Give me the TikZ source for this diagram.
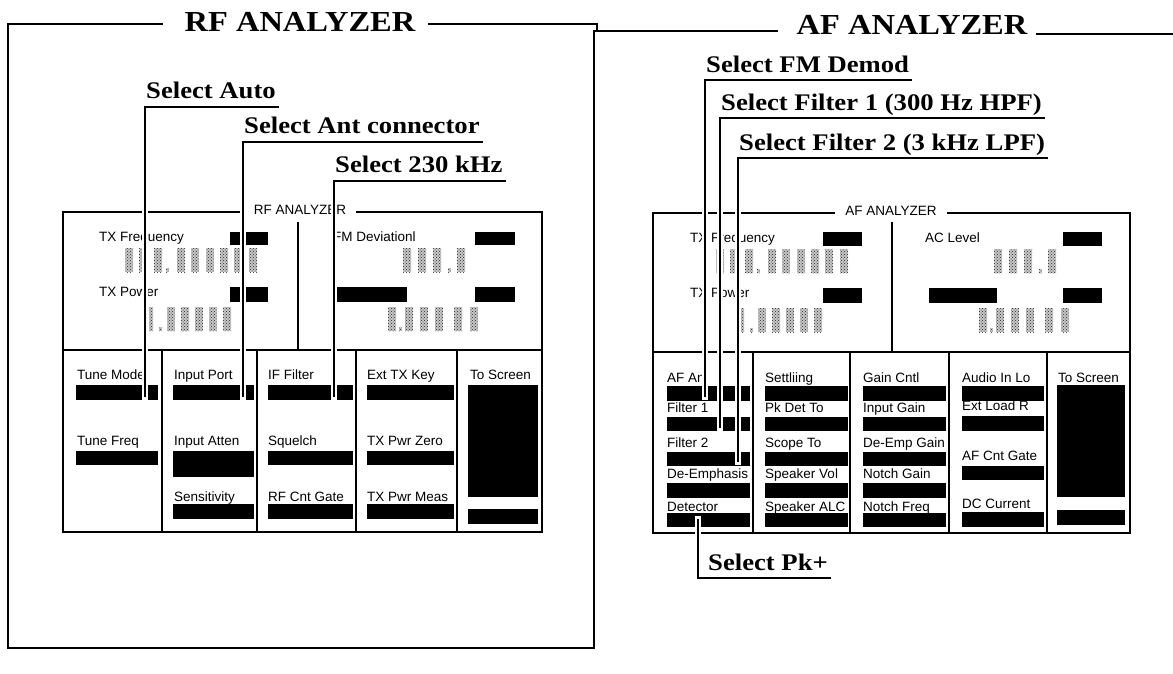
\documentclass[tikz,border=0pt]{standalone}
\usepackage{fontspec}
\setmainfont{Liberation Serif}
\newfontfamily\calloutfont[FakeStretch=1.12]{Liberation Serif Bold}
\newfontfamily\screenfont{Liberation Sans}
\usetikzlibrary{positioning,patterns}

\begin{document}
\begin{tikzpicture}[x=1pt,y=-1pt,
  frame/.style={line width=1.4pt},
  panel/.style={line width=2.4pt},
  divider/.style={line width=1.1pt},
  heading/.style={font=\calloutfont\fontsize{29}{32}\selectfont,inner sep=0pt,anchor=base},
  callout/.style={font=\calloutfont\fontsize{23.8}{26}\selectfont,inner sep=0pt,anchor=base west},
  softkey/.style={font=\screenfont\fontsize{13.5}{15}\selectfont,inner sep=0pt,anchor=base west},
  screentitle/.style={font=\screenfont\fontsize{13.5}{15}\selectfont,fill=white,inner xsep=10pt,inner ysep=2pt,anchor=base},
  field/.style 2 args={fill=black,inner sep=0pt,outer sep=0pt,anchor=north west,minimum width=#1,minimum height=#2},
  leader/.style={preaction={draw=white,line width=5.5pt,line cap=rect},draw=black,line width=1.8pt},
  digit/.style={fill=black!22,postaction={pattern=crosshatch dots,pattern color=black!85}}]

  \useasboundingbox (0,0) rectangle (1173,673);

  % outer frames with their headings
  \node[heading] (rfhead) at (300,31) {RF ANALYZER};
  \node[heading] (afhead) at (912,34) {AF ANALYZER};
  \draw[frame] (163,24) -- (8,24) -- (8,648) -- (594,648) -- (594,31) -- (778,31);
  \draw[frame] (428,24) -- (597,24) -- (597,31);
  \draw[frame] (1036,34) -- (1173,34);

  % RF screen
  \draw[panel] (63,212) rectangle (542,532);
  \draw[divider] (63,350) -- (542,350);
  \draw[divider] (298,222) -- (298,350);
  \foreach \x in {162,257,356,457} \draw[divider] (\x,350) -- (\x,532);
  \node[screentitle] (rfscreen) at (300,214) {RF ANALYZER};

  \node[softkey] (txfreq) at (99,241) {TX Frequency};
  \node[softkey] (txpower) at (99,296) {TX Power};
  \node[softkey] (fmdev) at (333,241) {FM Deviationl};
  \node[field={38pt}{13pt}] (txfreqf) at (230,232) {};
  \node[field={38pt}{15pt}] (txpowerf) at (230,287) {};
  \node[field={40pt}{13pt}] (fmdevf) at (475,232) {};
  \node[field={70pt}{15pt}] (rfmeasf) at (337,287) {};
  \node[field={40pt}{15pt}] (rfunitf) at (475,287) {};

  \node[softkey] (tunemode) at (77,379) {Tune Mode};
  \node[field={82pt}{15pt}] (tunemodef) at (76,385) {};
  \node[softkey] (tunefreq) at (77,445) {Tune Freq};
  \node[field={82pt}{14pt}] (tunefreqf) at (76,451) {};
  \node[softkey] (inport) at (174,379) {Input Port};
  \node[field={81pt}{15pt}] (inportf) at (173,385) {};
  \node[softkey] (inatten) at (174,445) {Input Atten};
  \node[field={81pt}{26pt}] (inattenf) at (173,451) {};
  \node[softkey] (sensit) at (174,501) {Sensitivity};
  \node[field={81pt}{15pt}] (sensitf) at (173,504) {};
  \node[softkey] (iffilter) at (268,379) {IF Filter};
  \node[field={85pt}{15pt}] (iffilterf) at (268,385) {};
  \node[softkey] (squelch) at (268,445) {Squelch};
  \node[field={85pt}{14pt}] (squelchf) at (268,451) {};
  \node[softkey] (rfcnt) at (268,501) {RF Cnt Gate};
  \node[field={85pt}{15pt}] (rfcntf) at (268,504) {};
  \node[softkey] (exttx) at (367,379) {Ext TX Key};
  \node[field={87pt}{15pt}] (exttxf) at (367,385) {};
  \node[softkey] (pwrzero) at (367,445) {TX Pwr Zero};
  \node[field={87pt}{14pt}] (pwrzerof) at (367,451) {};
  \node[softkey] (pwrmeas) at (367,501) {TX Pwr Meas};
  \node[field={87pt}{15pt}] (pwrmeasf) at (367,504) {};
  \node[softkey] (rfscr) at (470,379) {To Screen};
  \node[field={70pt}{112pt}] (rfscrf) at (468,385) {};
  \node[field={70pt}{15pt}] (rfscrg) at (468,509) {};

  % AF screen
  \draw[panel] (653,213) rectangle (1130,533);
  \draw[divider] (653,352) -- (1130,352);
  \draw[divider] (892,222) -- (892,352);
  \foreach \x in {753,850,949,1047} \draw[divider] (\x,352) -- (\x,533);
  \node[screentitle] (afscreen) at (891,215) {AF ANALYZER};

  \node[softkey] (aftxfreq) at (690,242) {TX Frequency};
  \node[softkey] (aftxpower) at (690,297) {TX Power};
  \node[softkey] (aclevel) at (925,242) {AC Level};
  \node[field={39pt}{14pt}] (aftxfreqf) at (823,232) {};
  \node[field={39pt}{15pt}] (aftxpowerf) at (823,288) {};
  \node[field={39pt}{14pt}] (aclevelf) at (1063,232) {};
  \node[field={68pt}{15pt}] (afmeasf) at (929,288) {};
  \node[field={39pt}{15pt}] (afunitf) at (1063,288) {};

  \node[softkey] (afanl) at (667,382) {AF Anl};
  \node[field={83pt}{15pt}] (afanlf) at (667,386) {};
  \node[softkey] (filt1) at (667,412) {Filter 1};
  \node[field={83pt}{14pt}] (filt1f) at (667,417) {};
  \node[softkey] (filt2) at (667,447) {Filter 2};
  \node[field={83pt}{14pt}] (filt2f) at (667,452) {};
  \node[softkey] (deemph) at (667,478) {De-Emphasis};
  \node[field={83pt}{15pt}] (deemphf) at (667,483) {};
  \node[softkey] (detect) at (667,511) {Detector};
  \node[field={83pt}{14pt}] (detectf) at (667,513) {};

  \node[softkey] (settl) at (765,382) {Settliing};
  \node[field={83pt}{15pt}] (settlf) at (765,386) {};
  \node[softkey] (pkdet) at (765,412) {Pk Det To};
  \node[field={83pt}{14pt}] (pkdetf) at (765,417) {};
  \node[softkey] (scope) at (765,447) {Scope To};
  \node[field={83pt}{14pt}] (scopef) at (765,452) {};
  \node[softkey] (spkvol) at (765,478) {Speaker Vol};
  \node[field={83pt}{15pt}] (spkvolf) at (765,483) {};
  \node[softkey] (spkalc) at (765,511) {Speaker ALC};
  \node[field={83pt}{14pt}] (spkalcf) at (765,513) {};

  \node[softkey] (gaincntl) at (863,382) {Gain Cntl};
  \node[field={83pt}{15pt}] (gaincntlf) at (863,386) {};
  \node[softkey] (ingain) at (863,412) {Input Gain};
  \node[field={83pt}{14pt}] (ingainf) at (863,417) {};
  \node[softkey] (deempg) at (863,447) {De-Emp Gain};
  \node[field={83pt}{14pt}] (deempgf) at (863,452) {};
  \node[softkey] (notchg) at (863,478) {Notch Gain};
  \node[field={83pt}{15pt}] (notchgf) at (863,483) {};
  \node[softkey] (notchf) at (863,511) {Notch Freq};
  \node[field={83pt}{14pt}] (notchff) at (863,513) {};

  \node[softkey] (audlo) at (962,382) {Audio In Lo};
  \node[field={82pt}{15pt}] (audlof) at (962,386) {};
  \node[softkey] (extload) at (962,410) {Ext Load R};
  \node[field={82pt}{15pt}] (extloadf) at (962,416) {};
  \node[softkey] (afcnt) at (962,460) {AF Cnt Gate};
  \node[field={82pt}{14pt}] (afcntf) at (962,466) {};
  \node[softkey] (dccur) at (962,508) {DC Current};
  \node[field={82pt}{15pt}] (dccurf) at (962,512) {};
  \node[softkey] (afscr) at (1058,382) {To Screen};
  \node[field={68pt}{112pt}] (afscrf) at (1057,385) {};
  \node[field={68pt}{15pt}] (afscrg) at (1057,510) {};

  % dotted read-outs, same layout on both screens
  \foreach \o/\d in {0/0,591/1}{
    \foreach \x in {125,139,154,177,191,206,220,234,249}
      \path[digit] (\x+\o,248+\d) rectangle ++(8,24);
    \path[digit] (166+\o,268+\d) rectangle ++(3,4);
    \foreach \x in {403,418,433,457}
      \path[digit] (\x+\o,248+\d) rectangle ++(8,24);
    \path[digit] (448+\o,268+\d) rectangle ++(3,4);
    \path[digit] (149+\o,307+\d) rectangle ++(4,24);
    \path[digit] (159+\o,327+\d) rectangle ++(3,4);
    \foreach \x in {167,181,195,209,223}
      \path[digit] (\x+\o,307+\d) rectangle ++(8,24);
    \foreach \x in {388,405,420,435,454,470}
      \path[digit] (\x+\o,307+\d) rectangle ++(8,24);
    \path[digit] (399+\o,327+\d) rectangle ++(3,4);
  }

  % callouts
  \node[callout] (selauto) at (146,98) {Select Auto};
  \node[callout] (selant) at (244,133) {Select Ant connector};
  \node[callout] (sel230) at (335,172) {Select 230 kHz};
  \node[callout] (selfm) at (706,72) {Select FM Demod};
  \node[callout] (self1) at (721,110) {Select Filter 1 (300 Hz HPF)};
  \node[callout] (self2) at (739,150) {Select Filter 2 (3 kHz LPF)};
  \node[callout] (selpk) at (708,570) {Select Pk+};

  \draw[leader] ([xshift=3pt,yshift=-9pt]selauto.base east) -- ([xshift=-1pt,yshift=-9pt]selauto.base west)
    -- ([xshift=-1pt,yshift=3pt]selauto.base west |- tunemodef.south);
  \draw[leader] ([xshift=3pt,yshift=-9pt]selant.base east) -- ([xshift=-1pt,yshift=-9pt]selant.base west)
    -- ([xshift=-1pt,yshift=3pt]selant.base west |- inportf.south);
  \draw[leader] ([xshift=3pt,yshift=-9pt]sel230.base east) -- ([xshift=-1pt,yshift=-9pt]sel230.base west)
    -- ([xshift=-1pt,yshift=3pt]sel230.base west |- iffilterf.south);
  \draw[leader] ([xshift=3pt,yshift=-8pt]selfm.base east) -- ([xshift=-1pt,yshift=-8pt]selfm.base west)
    -- ([xshift=-1pt,yshift=4pt]selfm.base west |- afanlf.south);
  \draw[leader] ([xshift=3pt,yshift=-8pt]self1.base east) -- ([xshift=-1pt,yshift=-8pt]self1.base west)
    -- ([xshift=-1pt,yshift=3pt]self1.base west |- filt1f.south);
  \draw[leader] ([xshift=3pt,yshift=-8pt]self2.base east) -- ([xshift=-1pt,yshift=-8pt]self2.base west)
    -- ([xshift=-1pt,yshift=4pt]self2.base west |- filt2f.south);
  \draw[leader] ([xshift=31pt,yshift=-6pt]detectf.north west)
    -- ([xshift=31pt,yshift=-8pt]detectf.north west |- selpk.base) -- ([xshift=3pt,yshift=-8pt]selpk.base east);
\end{tikzpicture}
\end{document}
